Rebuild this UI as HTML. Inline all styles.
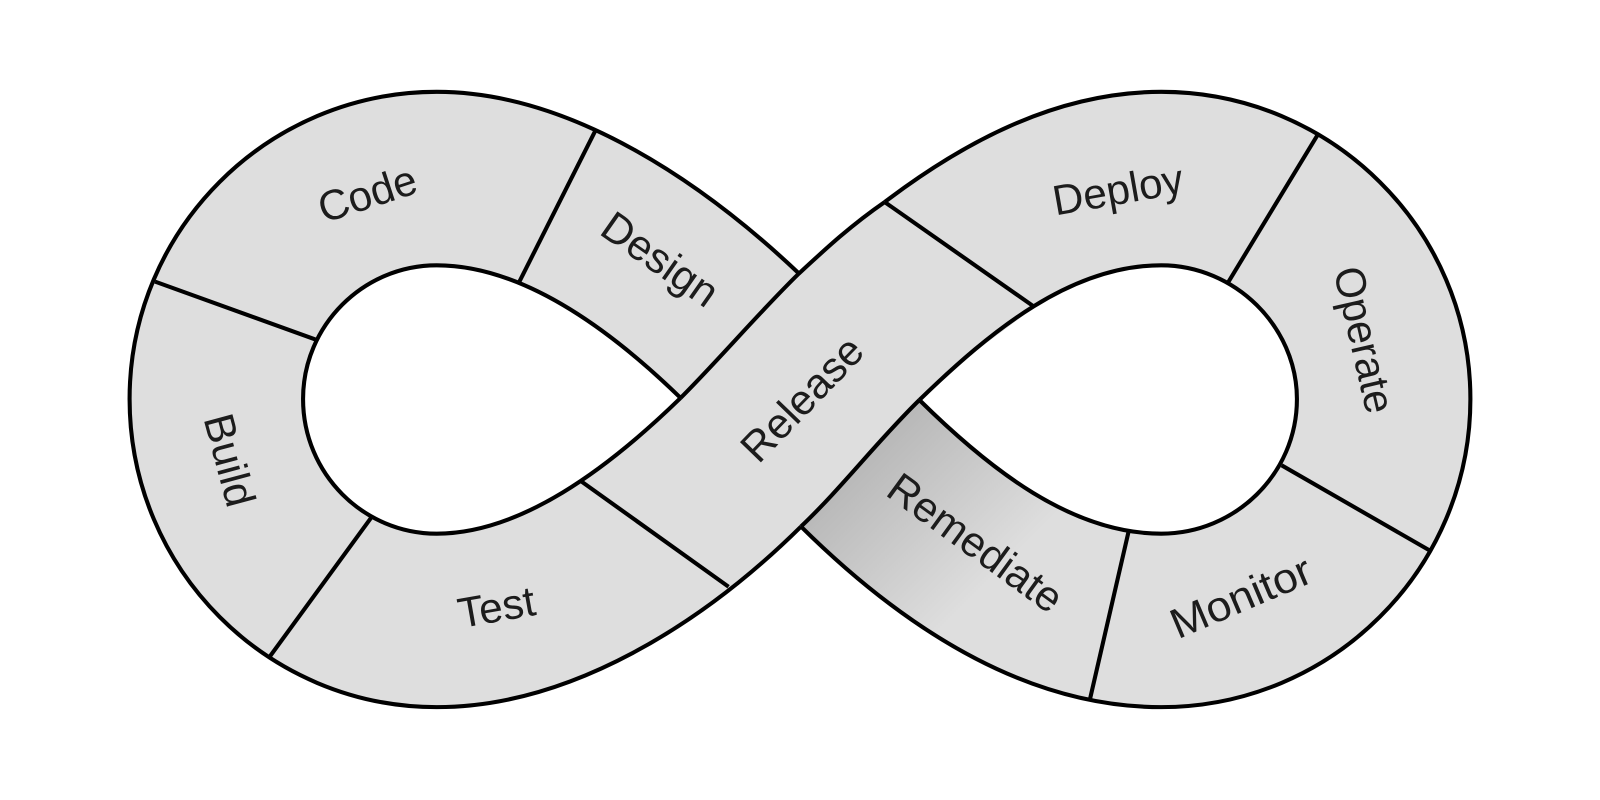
<!DOCTYPE html>
<html>
<head>
<meta charset="utf-8">
<style>
html,body{margin:0;padding:0;background:#fff;width:1600px;height:800px;overflow:hidden}
svg{display:block}
text{font-family:"Liberation Sans",sans-serif;font-size:41.5px;fill:#1c1c1c;text-anchor:middle;dominant-baseline:central}
</style>
</head>
<body>
<svg width="1600" height="800" viewBox="0 0 1600 800" xmlns="http://www.w3.org/2000/svg">
<defs>
<linearGradient id="g" gradientUnits="userSpaceOnUse" x1="835" y1="465" x2="955" y2="585">
<stop offset="0" stop-color="#b9b9b9"/>
<stop offset="1" stop-color="#dedede"/>
</linearGradient>
</defs>
<g transform="scale(1.0204)">
<path fill="#dedede" fill-rule="evenodd" d="M783,268 C690,180 560,90 428,90 C262,90 127,225 127,391 C127,558 262,693 428,693 C560,693 690,610 785,516 Z M667,390 C595,320 510,260 428,260 C356,260 297,319 297,391 C297,464 356,523 428,523 C510,523 595,460 667,390 Z"/>
<path fill="#dedede" fill-rule="evenodd" d="M867,198 C950,135 1040,90 1138,90 C1305,90 1441,225 1441,391 C1441,558 1305,693 1138,693 C1000,693 880,610 785,516 Z M901,392 C970,325 1050,260 1138,260 C1210,260 1271,320 1271,391 C1271,465 1210,523 1138,523 C1050,523 970,460 901,392 Z"/>
<path fill="url(#g)" d="M901,392 C960,450 1035,505 1106,521 L1068,686 C975,665 880,610 785,516 C825,478 860,432 901,392 Z"/>
<path fill="#dedede" d="M867,198 C835,220 810,243 783,268 C745,305 705,352 667,390 C640,418 605,448 570,472 L714,575 C740,555 760,538 785,516 C825,478 860,432 901,392 C930,362 975,330 1014,301 Z"/>
<g fill="none" stroke="#000" stroke-width="4" stroke-linejoin="round">
<path d="M783,268 C690,180 560,90 428,90 C262,90 127,225 127,391 C127,558 262,693 428,693 C560,693 690,610 785,516"/>
<path d="M667,390 C595,320 510,260 428,260 C356,260 297,319 297,391 C297,464 356,523 428,523 C510,523 595,460 667,390"/>
<path d="M867,198 C950,135 1040,90 1138,90 C1305,90 1441,225 1441,391 C1441,558 1305,693 1138,693 C1000,693 880,610 785,516"/>
<path d="M901,392 C972,323 1050,260 1138,260 C1210,260 1271,320 1271,391 C1271,465 1210,523 1138,523 C1050,523 970,460 901,392"/>
<path d="M867,198 C835,220 810,243 783,268 C745,305 705,352 667,390"/>
<path d="M785,516 C825,478 860,432 901,392"/>
<path d="M152,276 L310,333"/>
<path d="M364,507 L264,644"/>
<path d="M570,472 L714,575"/>
<path d="M584,127 L508,278"/>
<path d="M867,198 L1014,301"/>
<path d="M1292,131 L1204,276"/>
<path d="M1256,456 L1402,540"/>
<path d="M1106,521 L1068,686"/>
</g>
<text transform="translate(360,190) rotate(-18)">Code</text>
<text transform="translate(647,254) rotate(35)">Design</text>
<text transform="translate(225,451) rotate(75)">Build</text>
<text transform="translate(486.5,595) rotate(-10)">Test</text>
<text transform="translate(786,391) rotate(-46)">Release</text>
<text transform="translate(1095.5,186) rotate(-10)">Deploy</text>
<text transform="translate(1337,333) rotate(77)" textLength="146" lengthAdjust="spacingAndGlyphs">Operate</text>
<text transform="translate(1216,585) rotate(-23)" textLength="146" lengthAdjust="spacingAndGlyphs">Monitor</text>
<text transform="translate(956,532) rotate(36)">Remediate</text>
</g>
</svg>
</body>
</html>
